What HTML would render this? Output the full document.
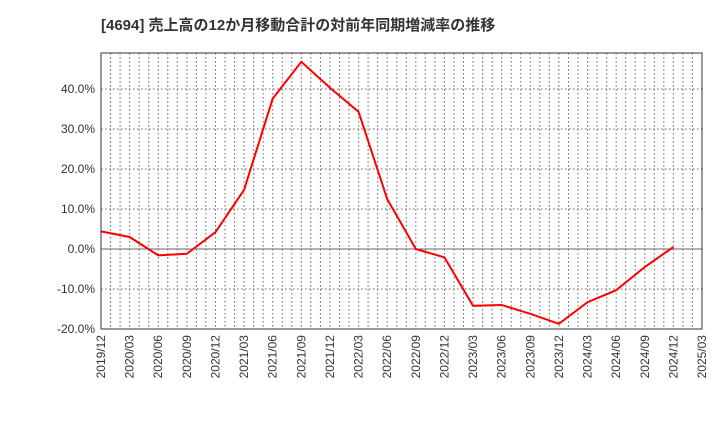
<!DOCTYPE html>
<html><head><meta charset="utf-8"><style>
body{margin:0;background:#fff;font-family:"Liberation Sans","Noto Sans CJK JP",sans-serif;}
</style></head><body>
<svg width="720" height="440" xmlns="http://www.w3.org/2000/svg">
<text x="101" y="30" font-size="15" font-weight="bold" fill="#333" font-family="Liberation Sans, Noto Sans CJK JP, sans-serif">[4694]  売上高の12か月移動合計の対前年同期増減率の推移</text>
<g id="grid"></g><g id="axes"></g>
<polyline id="line" fill="none" stroke="#ff0000" stroke-width="2"/>
<rect x="101" y="53" width="601" height="276" fill="none" stroke="#333" stroke-width="1"/>
</svg>
<script>
const xLabels=["2019/12","2020/03","2020/06","2020/09","2020/12","2021/03","2021/06","2021/09","2021/12","2022/03","2022/06","2022/09","2022/12","2023/03","2023/06","2023/09","2023/12","2024/03","2024/06","2024/09","2024/12","2025/03"];
const values=[4.4,3.0,-1.6,-1.2,4.2,14.8,37.6,46.8,40.3,34.3,12.5,0.0,-2.1,-14.2,-14.0,-16.2,-18.7,-13.3,-10.3,-4.5,0.5];
const yTicks=[40,30,20,10,0,-10,-20];
const NS="http://www.w3.org/2000/svg";
const L=101,R=702,T=53,B=329;
const xq=i=>L+i*(R-L)/(xLabels.length-1);
const yv=v=>249-4*v;
const grid=document.getElementById('grid'),axes=document.getElementById('axes');
function mk(tag,attrs,parent){const e=document.createElementNS(NS,tag);for(const k in attrs)e.setAttribute(k,attrs[k]);parent.appendChild(e);return e;}
for(let m=1;m<(xLabels.length-1)*3;m++){
  const x=L+m*(R-L)/((xLabels.length-1)*3);
  const l=mk('line',{x1:x,x2:x,y1:T,y2:B,stroke:'#666','stroke-dasharray':'1.5,2.5','stroke-width':1},grid);
  
  
}
yTicks.forEach(v=>{
  const y=yv(v);
  const l=mk('line',{x1:L,x2:R,y1:y,y2:y,stroke:'#666','stroke-dasharray':v===0?'none':'1.5,2.5','stroke-width':1},grid);
  
  
  const t=mk('text',{x:L-6,y:y+4,'text-anchor':'end','font-size':12,fill:'#333'},axes);
  t.textContent=v.toFixed(1)+'%';
  
  
});
xLabels.forEach((s,i)=>{
  const x=xq(i);
  const t=mk('text',{x:0,y:0,transform:`translate(${x+4},${B+6}) rotate(-90)`,'text-anchor':'end','font-size':12,fill:'#333'},axes);
  t.textContent=s;
  
  
});
document.getElementById('line').setAttribute('points',values.map((v,i)=>xq(i)+','+yv(v)).join(' '));
</script>
</body></html>
